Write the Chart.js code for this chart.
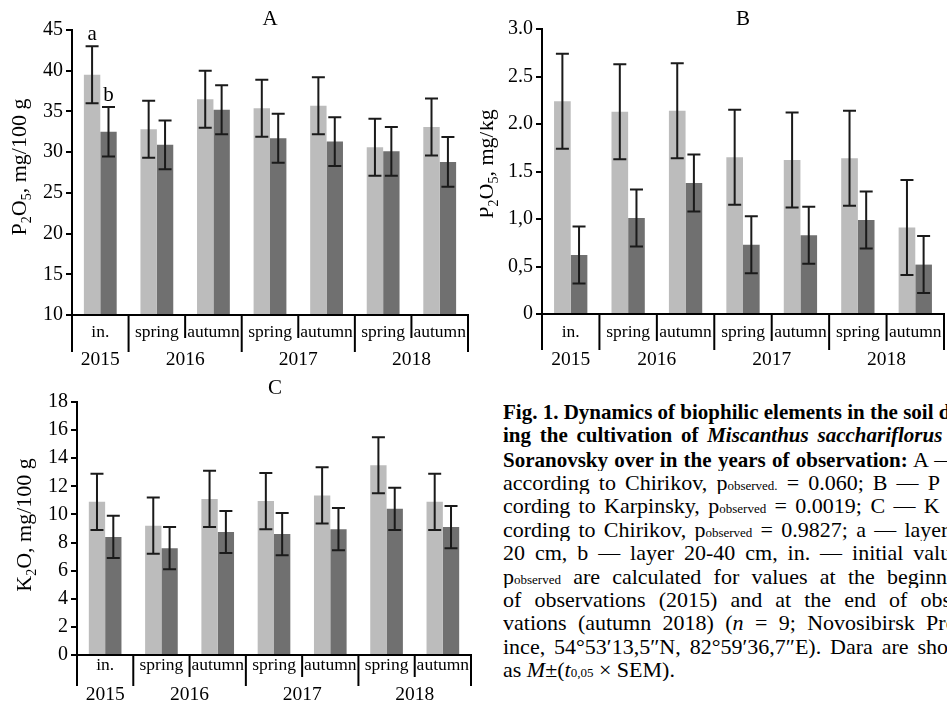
<!DOCTYPE html>
<html lang="en">

<head>
    <meta charset="UTF-8">
    <title>Fig. 1. Dynamics of biophilic elements</title>
    <script src="https://cdn.jsdelivr.net/npm/chart.js"></script>
    <style>
        body {
            margin: 0;
            width: 947px;
            height: 703px;
            overflow: hidden;
            position: relative;
            background: #ffffff;
            font-family: 'Liberation Serif', serif;
            color: #000;
        }

        canvas {
            position: absolute;
        }

        .caption {
            position: absolute;
            left: 503px;
            top: 401px;
            width: 472px;
            font-size: 22px;
        }

        .caption .ln {
            height: 23.36px;
            line-height: 23.36px;
            text-align: justify;
            text-align-last: justify;
            white-space: nowrap;
            overflow: hidden;
        }

        .caption .bold {
            font-size: 21px;
        }

        .caption .last {
            text-align-last: left;
        }

        .caption .s {
            font-size: 13px;
        }
    </style>
</head>

<body>
    <canvas id="chartA" width="480" height="370" style="left:0;top:0"></canvas>
    <canvas id="chartB" width="467" height="370" style="left:480px;top:0"></canvas>
    <canvas id="chartC" width="480" height="333" style="left:0;top:370px"></canvas>

    <div class="caption">
        <div class="ln bold"><b>Fig. 1. Dynamics of biophilic elements in the soil dur-</b></div>
        <div class="ln bold"><b>ing the cultivation of <i>Miscanthus sacchariflorus</i> cv.</b></div>
        <div class="ln"><b style="font-size:21px">Soranovsky over in the years of observation:</b> A — P</div>
        <div class="ln">according to Chirikov, p<span class="s">observed.</span> = 0.060; B — P ac-</div>
        <div class="ln">cording to Karpinsky, p<span class="s">observed</span> = 0.0019; C — K ac-</div>
        <div class="ln">cording to Chirikov, p<span class="s">observed</span> = 0.9827; a — layer 0-</div>
        <div class="ln">20 cm, b — layer 20-40 cm, in. — initial values.</div>
        <div class="ln">p<span class="s">observed</span> are calculated for values at the beginning</div>
        <div class="ln">of observations (2015) and at the end of obser-</div>
        <div class="ln">vations (autumn 2018) (<i>n</i> = 9; Novosibirsk Prov-</div>
        <div class="ln">ince, 54°53′13,5″N, 82°59′36,7″E). Dara are shown</div>
        <div class="ln last">as <i>M</i>±(<i>t</i><span class="s">0,05</span> × SEM).</div>
    </div>

    <script>
        // x axis: sampling seasons, grouped by year
        const seasons = ['in.', 'spring', 'autumn', 'spring', 'autumn', 'spring', 'autumn'];
        const years = ['2015', '2016', '2017', '2018'];
        const yearSpan = [1, 2, 2, 2];

        // A - P2O5 by Chirikov, mg/100 g (layer 0-20 cm = a, 20-40 cm = b)
        const pChirikovTop = [39.5, 32.8, 36.5, 35.4, 35.7, 30.6, 33.1];
        const pChirikovTopErr = [3.5, 3.5, 3.5, 3.5, 3.5, 3.5, 3.5];
        const pChirikovSub = [32.5, 30.9, 35.2, 31.7, 31.3, 30.1, 28.8];
        const pChirikovSubErr = [3.05, 3.0, 3.0, 3.0, 3.0, 3.0, 3.05];

        // B - P2O5 by Karpinsky, mg/kg
        const pKarpinskyTop = [2.24, 2.13, 2.14, 1.65, 1.62, 1.64, 0.91];
        const pKarpinskyTopErr = [0.5, 0.5, 0.5, 0.5, 0.5, 0.5, 0.5];
        const pKarpinskySub = [0.62, 1.01, 1.38, 0.73, 0.83, 0.99, 0.52];
        const pKarpinskySubErr = [0.3, 0.3, 0.3, 0.3, 0.3, 0.3, 0.3];
        const bTickLabels = ['0', '0,5', '1,0', '1.5', '2.0', '2.5', '3.0'];

        // C - K2O by Chirikov, mg/100 g
        const kChirikovTop = [10.9, 9.2, 11.1, 10.95, 11.35, 13.5, 10.9];
        const kChirikovTopErr = [2.0, 2.0, 2.0, 2.0, 2.0, 2.0, 2.0];
        const kChirikovSub = [8.4, 7.6, 8.75, 8.6, 8.95, 10.4, 9.1];
        const kChirikovSubErr = [1.5, 1.5, 1.5, 1.5, 1.5, 1.5, 1.5];

        const LIGHT = '#bcbcbc';
        const DARK = '#707070';
        const SERIF = "'Liberation Serif', serif";

        function font(size) {
            return size + 'px ' + SERIF;
        }

        // draws rotated axis title with subscript parts
        function drawRotatedTitle(ctx, parts, x, y) {
            ctx.save();
            ctx.translate(x, y);
            ctx.rotate(-Math.PI / 2);
            let total = 0;
            parts.forEach(p => {
                ctx.font = font(p.sub ? 14 : 22);
                p.w = ctx.measureText(p.t).width;
                total += p.w;
            });
            let cx = -total / 2;
            ctx.textAlign = 'left';
            ctx.textBaseline = 'alphabetic';
            ctx.fillStyle = '#000';
            parts.forEach(p => {
                ctx.font = font(p.sub ? 14 : 22);
                ctx.fillText(p.t, cx, p.sub ? 5 : 0);
                cx += p.w;
            });
            ctx.restore();
        }

        const panelPlugin = {
            id: 'panel',
            afterDatasetsDraw(chart) {
                const ctx = chart.ctx;
                const y = chart.scales.y;
                ctx.save();
                ctx.strokeStyle = '#1a1a1a';
                ctx.lineWidth = 2;
                chart.data.datasets.forEach((ds, i) => {
                    chart.getDatasetMeta(i).data.forEach((bar, j) => {
                        const hi = y.getPixelForValue(ds.data[j] + ds.err[j]);
                        const lo = y.getPixelForValue(ds.data[j] - ds.err[j]);
                        ctx.beginPath();
                        ctx.moveTo(bar.x, hi);
                        ctx.lineTo(bar.x, lo);
                        ctx.moveTo(bar.x - 6.5, hi);
                        ctx.lineTo(bar.x + 6.5, hi);
                        ctx.moveTo(bar.x - 6.5, lo);
                        ctx.lineTo(bar.x + 6.5, lo);
                        ctx.stroke();
                    });
                });
                ctx.restore();
            },
            afterDraw(chart, args, opts) {
                const ctx = chart.ctx;
                const area = chart.chartArea;
                const n = seasons.length;
                const w = (area.right - area.left) / n;
                ctx.save();

                // baseline
                ctx.strokeStyle = '#000';
                ctx.lineWidth = 2;
                ctx.beginPath();
                ctx.moveTo(area.left - 1, area.bottom);
                ctx.lineTo(area.right + 1, area.bottom);
                ctx.stroke();

                // separators between seasons and years
                const yearEdges = [0];
                yearSpan.forEach(s => yearEdges.push(yearEdges[yearEdges.length - 1] + s));
                for (let k = 0; k <= n; k++) {
                    const x = area.left + k * w;
                    const len = yearEdges.includes(k) ? opts.yearTick : opts.seasonTick;
                    ctx.beginPath();
                    ctx.moveTo(x, area.bottom);
                    ctx.lineTo(x, area.bottom + len);
                    ctx.stroke();
                }

                // season labels, clipped to their cell
                ctx.fillStyle = '#000';
                ctx.textAlign = 'center';
                ctx.textBaseline = 'alphabetic';
                ctx.font = font(17.5);
                seasons.forEach((s, k) => {
                    const x0 = area.left + k * w;
                    ctx.save();
                    ctx.beginPath();
                    ctx.rect(x0 + 1, area.bottom, w - 2, 40);
                    ctx.clip();
                    ctx.fillText(s, x0 + w / 2, area.bottom + opts.seasonY);
                    ctx.restore();
                });

                // year labels
                ctx.font = font(19.5);
                years.forEach((yr, i) => {
                    const mid = area.left + (yearEdges[i] + yearEdges[i + 1]) / 2 * w;
                    ctx.fillText(yr, mid, area.bottom + opts.yearY);
                });

                // panel letter
                ctx.font = font(21);
                ctx.fillText(opts.letter, opts.letterX, opts.letterY);

                // layer marks a / b
                if (opts.marks) {
                    const y = chart.scales.y;
                    chart.data.datasets.forEach((ds, i) => {
                        const bar = chart.getDatasetMeta(i).data[0];
                        const hi = y.getPixelForValue(ds.data[0] + ds.err[0]);
                        ctx.fillText(opts.marks[i], bar.x, hi - 6);
                    });
                }

                drawRotatedTitle(ctx, opts.title, opts.titleX, opts.titleY);
                ctx.restore();
            }
        };

        function makePanel(id, cfg) {
            return new Chart(document.getElementById(id), {
                type: 'bar',
                data: {
                    labels: seasons,
                    datasets: [
                        { label: '0-20 cm', data: cfg.top, err: cfg.topErr, backgroundColor: LIGHT, categoryPercentage: 0.58, barPercentage: 1 },
                        { label: '20-40 cm', data: cfg.sub, err: cfg.subErr, backgroundColor: DARK, categoryPercentage: 0.58, barPercentage: 1 }
                    ]
                },
                options: {
                    responsive: false,
                    animation: false,
                    devicePixelRatio: 1,
                    layout: { padding: cfg.padding },
                    plugins: {
                        legend: { display: false },
                        tooltip: { enabled: false },
                        panel: cfg.panel
                    },
                    scales: {
                        x: { display: false },
                        y: {
                            min: cfg.min,
                            max: cfg.max,
                            ticks: {
                                stepSize: cfg.step,
                                color: '#000',
                                padding: 3,
                                font: { family: SERIF, size: 20 },
                                callback: cfg.tickLabel || (v => v)
                            },
                            grid: {
                                drawOnChartArea: false,
                                drawTicks: true,
                                tickLength: 6,
                                color: '#000',
                                lineWidth: 2
                            },
                            border: { display: true, color: '#000', width: 2 },
                            afterFit: s => { s.width = cfg.axisWidth; }
                        }
                    }
                },
                plugins: [panelPlugin]
            });
        }

        makePanel('chartA', {
            top: pChirikovTop, topErr: pChirikovTopErr,
            sub: pChirikovSub, subErr: pChirikovSubErr,
            min: 10, max: 45, step: 5,
            axisWidth: 72,
            padding: { left: 0, right: 12, top: 30, bottom: 55 },
            panel: {
                letter: 'A', letterX: 270, letterY: 25,
                marks: ['a', 'b'],
                seasonTick: 23, yearTick: 37, seasonY: 22, yearY: 50,
                title: [{ t: 'P' }, { t: '2', sub: true }, { t: 'O' }, { t: '5', sub: true }, { t: ', mg/100 g' }],
                titleX: 26, titleY: 167
            }
        });

        makePanel('chartB', {
            top: pKarpinskyTop, topErr: pKarpinskyTopErr,
            sub: pKarpinskySub, subErr: pKarpinskySubErr,
            min: 0, max: 3, step: 0.5,
            tickLabel: (v, i) => bTickLabels[i],
            axisWidth: 62,
            padding: { left: 0, right: 3, top: 29, bottom: 56 },
            panel: {
                letter: 'B', letterX: 263, letterY: 25,
                seasonTick: 27, yearTick: 36, seasonY: 23, yearY: 51,
                title: [{ t: 'P' }, { t: '2', sub: true }, { t: 'O' }, { t: '5', sub: true }, { t: ', mg/kg' }],
                titleX: 13, titleY: 164
            }
        });

        makePanel('chartC', {
            top: kChirikovTop, topErr: kChirikovTopErr,
            sub: kChirikovSub, subErr: kChirikovSubErr,
            min: 0, max: 18, step: 2,
            axisWidth: 77,
            padding: { left: 0, right: 9, top: 32, bottom: 48 },
            panel: {
                letter: 'C', letterX: 275, letterY: 24,
                seasonTick: 22, yearTick: 31, seasonY: 15, yearY: 45,
                title: [{ t: 'K' }, { t: '2', sub: true }, { t: 'O, mg/100 g' }],
                titleX: 31, titleY: 155
            }
        });
    </script>
</body>

</html>
